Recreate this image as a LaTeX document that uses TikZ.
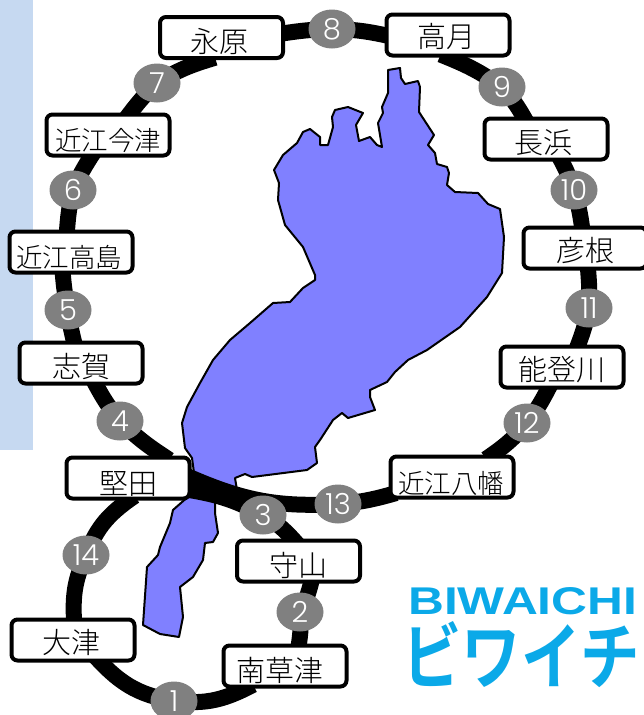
\documentclass[tikz,border=0pt]{standalone}
\usepackage{fontspec}
\usetikzlibrary{shapes.geometric}
\newfontfamily\cjk{Noto Sans CJK JP Light}
\newfontfamily\cjkbold{Noto Sans CJK JP Bold}
\newfontfamily\numfont{Poppins Light}
\newfontfamily\logofont{Liberation Sans}
\newcommand{\stl}[2]{\raisebox{\dimexpr-.38em-#1pt\relax}[0pt][0pt]{#2}}
\definecolor{lakeblue}{HTML}{8080FF}
\definecolor{sideblue}{HTML}{C6D9F1}
\definecolor{badgegray}{HTML}{808080}
\definecolor{logocyan}{HTML}{0BA9E8}
\pgfdeclarelayer{base}
\pgfdeclarelayer{track}
\pgfsetlayers{base,track,main}
\tikzset{
  station/.style={draw=black,fill=white,line width=4pt,rounded corners=6pt,minimum width=123pt,minimum height=41pt,inner sep=0pt,font=\cjk\fontsize{29}{29}\selectfont},
  stationwide/.style={station,font=\cjk\fontsize{26.5}{26.5}\selectfont},
  badge/.style={ellipse,fill=badgegray,minimum width=47pt,minimum height=39pt,inner sep=0pt,text=white,font=\numfont\fontsize{29}{29}\selectfont},
  rail/.style={draw=black,line width=16pt,line cap=butt,shorten <=-8pt,shorten >=-8pt},
  lake/.style={draw=black,fill=lakeblue,line width=2pt,line join=round}
}
\begin{document}
\begin{tikzpicture}[x=1pt,y=-1pt]
\useasboundingbox (0,0) rectangle (643,715);
\begin{pgfonlayer}{base}
\fill[sideblue] (0,0) rectangle (33,450);
\draw[lake] (388,70)--(400,68)--(401,78)--(405,84)--(418,81)--(420,87)--(419,112)--(434,135)--(428,145)--(435,153)--(437,164)--(447,167)--(449,173)--(447,185)--(455,192)--(478,193)--(488,204)--(500,209)--(504,237)--(502,273)--(487,297)--(460,327)--(427,350)--(408,360)--(395,372)--(387,382)--(370,390)--(370,397)--(375,410)--(348,418)--(342,413)--(333,420)--(320,440)--(315,447)--(317,463)--(307,470)--(252,477)--(245,474)--(235,478)--(237,490)--(195,480)--(192,458)--(185,448)--(182,423)--(187,407)--(200,383)--(213,360)--(230,340)--(250,323)--(273,303)--(290,302)--(303,288)--(315,280)--(315,275)--(303,247)--(285,225)--(278,200)--(279,183)--(274,170)--(283,155)--(297,143)--(303,132)--(310,129)--(320,137)--(320,145)--(328,145)--(333,127)--(332,117)--(335,110)--(348,107)--(363,113)--(356,125)--(359,141)--(370,137)--(377,145)--(382,147)--(378,123)--(383,113)--(382,107)--(388,93)--cycle;
\draw[lake] (190,495)--(215,495)--(215,513)--(218,533)--(213,542)--(205,543)--(203,560)--(193,577)--(180,587)--(183,617)--(179,637)--(160,634)--(143,625)--(147,567)--(158,555)--(160,547)--(170,523)--(173,510)--cycle;
\end{pgfonlayer}
% stations
\node[station] (nagahara) at (221.5,37.5) {\stl{3.5}{\kern-4pt 永原}};
\node[station] (takatsuki) at (448,35) {\stl{1}{\kern-4pt 高月}};
\node[station] (nagahama) at (546,139) {\stl{3}{\kern-6pt 長浜}};
\node[station] (hikone) at (585,248) {\stl{2}{彦根}};
\node[station] (notogawa) at (562,367) {\stl{2}{能登川}};
\node[stationwide] (hachiman) at (452,477) {\stl{6}{\kern-2pt 近江八幡}};
\node[station] (moriyama) at (298.5,561) {\stl{4}{守山}};
\node[station] (minamikusatsu) at (285,666) {\stl{4}{\kern-10pt 南草津}};
\node[station] (otsu) at (73,640) {\stl{2}{\kern-2pt 大津}};
\node[station] (katata) at (128,478) {\stl{5}{堅田}};
\node[station] (shiga) at (81,363) {\stl{3}{志賀}};
\node[stationwide] (takashima) at (71,252) {\stl{5}{\kern-3pt 近江高島}};
\node[stationwide] (imazu) at (108,135) {\stl{5}{近江今津}};
% badges
\node[badge] (b1) at (174,701) {1};
\node[badge] (b2) at (300,612) {2};
\node[badge] (b3) at (263,515) {3};
\node[badge] (b4) at (120,421) {4};
\node[badge] (b5) at (68,310) {5};
\node[badge] (b6) at (73,190) {6};
\node[badge] (b7) at (157,83) {7};
\node[badge] (b8) at (332,29) {8};
\node[badge] (b9) at (502,87) {9};
\node[badge] (b10) at (574,190) {10};
\node[badge] (b11) at (589,308) {11};
\node[badge] (b12) at (527,423) {12};
\node[badge] (b13) at (338,504) {13};
\node[badge] (b14) at (86,555) {14};
% logo
\node[anchor=north west,inner sep=0pt,text=logocyan] (logoen) at (408,587) {\resizebox{229pt}{27pt}{\logofont\bfseries BIWAICHI}};
\node[anchor=north west,inner sep=0pt,text=logocyan] (logoja) at (402,621) {\resizebox{238pt}{62pt}{\cjkbold ビワイチ}};
\begin{pgfonlayer}{track}
\draw[rail] (b8.center) to[bend left=6] (takatsuki.west);
\draw[rail] (takatsuki.south) to[bend left=7] (b9.center);
\draw[rail] (b9.center) to[bend left=7] (nagahama.135);
\draw[rail] (nagahama.-55) to[bend left=5] (b10.center);
\draw[rail] (b10.center) to[bend left=5] (hikone.98);
\draw[rail] (hikone.-82) to[bend left=4] (b11.center);
\draw[rail] (b11.center) to[bend left=5] (notogawa.54);
\draw[rail] (notogawa.-122) to[bend left=5] (b12.center);
\draw[rail] (b12.center) to[bend left=8] (hachiman.29);
\draw[rail] (hachiman.-164) to[bend left=6] (b13.center);
\draw[rail] (b13.center) to[bend left=14] (katata.east);
\draw[rail] (katata.33) to[bend left=6] (b4.center);
\draw[rail] (b4.center) to[bend left=6] (shiga.-56);
\draw[rail] (shiga.108) to[bend left=4] (b5.center);
\draw[rail] (b5.center) to[bend left=4] (takashima.-110);
\draw[rail] (takashima.100) to[bend left=5] (b6.center);
\draw[rail] (b6.center) to[bend left=5] (imazu.-128);
\draw[rail] (imazu.45) to[bend left=5] (b7.center);
\draw[rail] (b7.center) to[bend left=8] (nagahara.-122);
\draw[rail] (nagahara.4) to[bend left=4] (b8.center);
\draw[rail] (katata.-11) to[bend left=10] (b3.center);
\draw[rail] (b3.center) to[bend left=10] (moriyama.105);
\draw[rail] (moriyama.-61) to[bend left=8] (b2.center);
\draw[rail] (b2.center) to[bend left=8] (minamikusatsu.58);
\draw[rail] (minamikusatsu.-150) to[bend left=18] (b1.center);
\draw[rail] (b1.center) to[bend left=20] (otsu.-39);
\draw[rail] (otsu.88) to[bend left=15] (b14.center);
\draw[rail] (b14.center) to[bend left=18] (katata.south);
\end{pgfonlayer}
\end{tikzpicture}
\end{document}
